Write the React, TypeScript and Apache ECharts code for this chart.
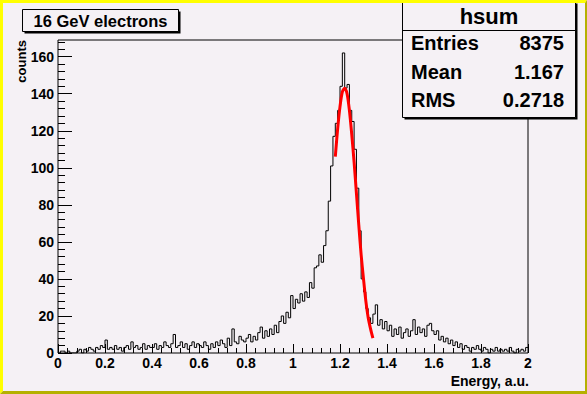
import React, { useEffect, useRef } from "react";
import * as echarts from "echarts";

// ---- data ----
const X_MIN = 0;
const X_MAX = 2;
const BIN_WIDTH = 0.01;
const Y_MAX = 169;

// counts per bin (200 bins of 0.01 over 0..2)
const counts = [
  0, 1, 1, 0, 1, 0, 0, 0, 1, 2,
  0, 2, 1, 3, 2, 1, 3, 2, 4, 3,
  7, 2, 3, 2, 4, 2, 3, 1, 3, 4,
  2, 6, 3, 4, 2, 3, 5, 2, 4, 3,
  3, 5, 2, 4, 3, 6, 4, 3, 5, 10,
  3, 4, 6, 3, 5, 2, 4, 6, 3, 5,
  4, 3, 6, 4, 2, 5, 3, 6, 4, 7,
  5, 3, 8, 4, 13, 6, 5, 9, 7, 6,
  8, 10, 6, 9, 7, 11, 14, 8, 12, 9,
  13, 10, 15, 11, 17, 20, 16, 22, 19, 31,
  24, 29, 27, 32, 28, 33, 30, 38, 35, 46,
  47, 53, 49, 58, 66, 82, 101, 117, 124, 131,
  144, 162, 143, 145, 131, 125, 110, 89, 66, 40,
  33, 24, 19, 16, 21, 26, 15, 18, 13, 17,
  12, 15, 9, 13, 10, 14, 8, 11, 13, 9,
  12, 18, 10, 14, 11, 13, 9, 15, 16, 12,
  10, 12, 7, 9, 6, 8, 5, 7, 4, 6,
  3, 5, 2, 4, 3, 1, 3, 2, 4, 2,
  1, 3, 2, 0, 2, 1, 3, 1, 2, 1,
  2, 1, 3, 1, 0, 2, 1, 2, 1, 3,
];

// red fit curve
const fitEnergy = [1.18, 1.19, 1.2, 1.21, 1.22, 1.23, 1.24, 1.25, 1.26, 1.27, 1.28, 1.29, 1.3, 1.31, 1.32, 1.33, 1.34];
const fitCounts = [106, 121, 133, 141, 143, 140, 131, 118, 103, 86, 69, 53, 40, 28, 19, 13, 8];

const yMajorTicks = [0, 20, 40, 60, 80, 100, 120, 140, 160];
const yMinorTicks = [4, 8, 12, 16, 24, 28, 32, 36, 44, 48, 52, 56, 64, 68, 72, 76, 84, 88, 92, 96, 104, 108, 112, 116, 124, 128, 132, 136, 144, 148, 152, 156, 164, 168];

const plotTitle = "16 GeV electrons";
const histName = "hsum";
const statLabels = ["Entries", "Mean", "RMS"];
const statValues = ["8375", "1.167", "0.2718"];
const xTitle = "Energy, a.u.";
const yTitle = "counts";

const BG = "#f5f1f5";
const FONT = "'Liberation Sans', Arial, Helvetica, sans-serif";

export default function App() {
  const ref = useRef<HTMLDivElement>(null);

  useEffect(() => {
    if (!ref.current) return;
    const chart = echarts.init(ref.current, null, { renderer: "svg" });

    const histPoints: number[][] = counts.map((c, i) => [X_MIN + i * BIN_WIDTH, c]);
    histPoints.push([X_MAX, counts[counts.length - 1]]);
    const fitPoints = fitEnergy.map((e, i) => [e, fitCounts[i]]);

    const statRowY = [43, 72, 100];
    const statElems: any[] = [];
    statLabels.forEach((l, i) => {
      statElems.push({
        type: "text", z: 101, x: 411, y: statRowY[i],
        style: { text: l, fill: "#000", font: `bold 20px ${FONT}`, textAlign: "left", textVerticalAlign: "middle" },
      });
      statElems.push({
        type: "text", z: 101, x: 564, y: statRowY[i],
        style: { text: statValues[i], fill: "#000", font: `bold 20px ${FONT}`, textAlign: "right", textVerticalAlign: "middle" },
      });
    });

    chart.setOption({
      animation: false,
      backgroundColor: BG,
      grid: {
        left: 58, top: 40, right: 59, bottom: 41,
        show: true, borderColor: "#000", borderWidth: 1, backgroundColor: "transparent",
      },
      xAxis: {
        type: "value", min: X_MIN, max: X_MAX, interval: 0.2,
        axisLine: { show: false },
        axisTick: { show: true, inside: true, length: 9, lineStyle: { color: "#000", width: 1 } },
        minorTick: { show: true, splitNumber: 5, length: 5, lineStyle: { color: "#000", width: 1 } },
        axisLabel: { color: "#000", fontFamily: FONT, fontWeight: "bold", fontSize: 14, margin: 3 },
        splitLine: { show: false },
      },
      yAxis: [
        {
          type: "value", min: 0, max: Y_MAX, position: "left",
          axisLine: { show: false },
          splitLine: { show: false },
          axisTick: { show: true, inside: true, length: 14, customValues: yMajorTicks, lineStyle: { color: "#000", width: 1 } },
          axisLabel: { customValues: yMajorTicks, color: "#000", fontFamily: FONT, fontWeight: "bold", fontSize: 14, margin: 4 },
        },
        {
          type: "value", min: 0, max: Y_MAX, position: "left",
          axisLine: { show: false },
          splitLine: { show: false },
          axisTick: { show: true, inside: true, length: 7, customValues: yMinorTicks, lineStyle: { color: "#000", width: 1 } },
          axisLabel: { show: false },
        },
      ],
      series: [
        {
          type: "line", name: histName, data: histPoints, step: "end", symbol: "none",
          lineStyle: { color: "#000", width: 1 }, itemStyle: { color: "#000" }, silent: true, z: 3,
        },
        {
          type: "line", name: "fit", data: fitPoints, smooth: 0.3, symbol: "none",
          lineStyle: { color: "#ff0000", width: 3 }, itemStyle: { color: "#ff0000" }, silent: true, z: 4,
        },
      ],
      graphic: [
        // title box
        { type: "rect", z: 100, shape: { x: 24.5, y: 11.5, width: 156, height: 22 }, style: { fill: "#000" } },
        { type: "rect", z: 100, shape: { x: 22.5, y: 9.5, width: 156, height: 22 }, style: { fill: BG, stroke: "#000", lineWidth: 1 } },
        { type: "text", z: 101, x: 100.5, y: 21, style: { text: plotTitle, fill: "#000", font: `bold 16.5px ${FONT}`, textAlign: "center", textVerticalAlign: "middle" } },
        // stats box
        { type: "rect", z: 100, shape: { x: 404.5, y: 3.5, width: 173, height: 116 }, style: { fill: "#000" } },
        { type: "rect", z: 100, shape: { x: 402.5, y: 1.5, width: 173, height: 116 }, style: { fill: BG, stroke: "#000", lineWidth: 1 } },
        { type: "line", z: 101, shape: { x1: 402.5, y1: 30.5, x2: 575.5, y2: 30.5 }, style: { stroke: "#000", lineWidth: 1 } },
        { type: "text", z: 101, x: 489, y: 16, style: { text: histName, fill: "#000", font: `bold 22px ${FONT}`, textAlign: "center", textVerticalAlign: "middle" } },
        ...statElems,
        // axis titles
        { type: "text", z: 101, x: 529, y: 381, style: { text: xTitle, fill: "#000", font: `bold 14px ${FONT}`, textAlign: "right", textVerticalAlign: "middle" } },
        { type: "text", z: 101, x: 21, y: 40, rotation: Math.PI / 2, style: { text: yTitle, fill: "#000", font: `bold 13px ${FONT}`, textAlign: "right", textVerticalAlign: "middle" } },
        // bevel frame
        { type: "polygon", z: 200, shape: { points: [[0, 0], [587, 0], [585, 3], [3, 3], [3, 391], [0, 394]] }, style: { fill: "#ffff00" } },
        { type: "polygon", z: 200, shape: { points: [[587, 0], [587, 394], [0, 394], [3, 391], [585, 391], [585, 3]] }, style: { fill: "#b5b000" } },
      ],
    });

    return () => chart.dispose();
  }, []);

  return <div ref={ref} style={{ position: "absolute", left: 0, top: 0, width: 587, height: 394 }} />;
}
